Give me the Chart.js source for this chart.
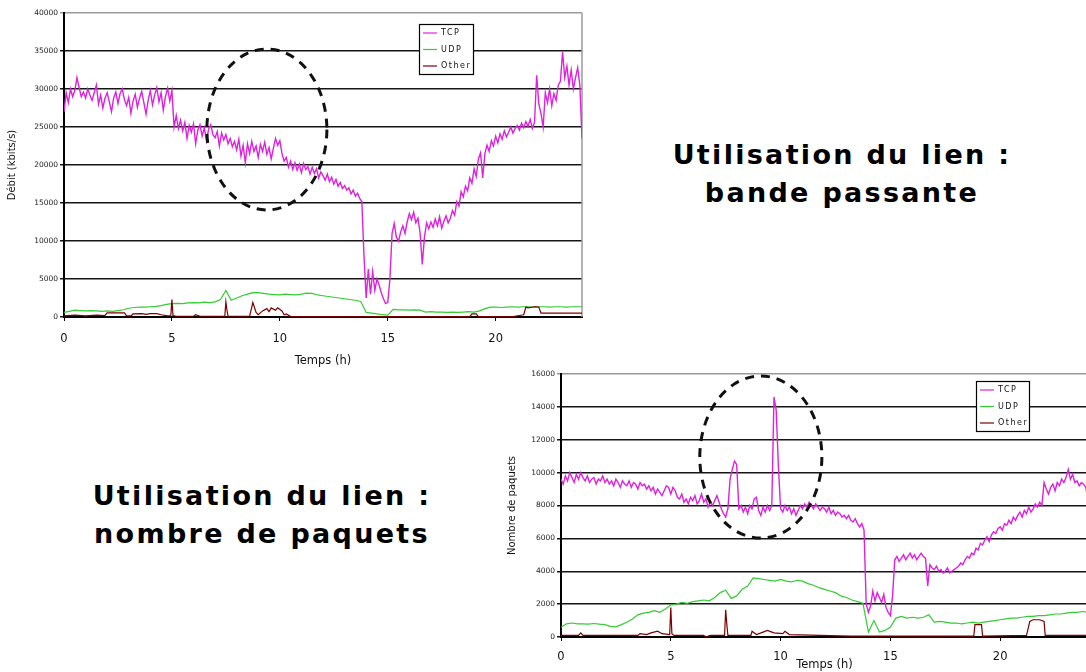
<!DOCTYPE html>
<html>
<head>
<meta charset="utf-8">
<script src="https://cdn.jsdelivr.net/npm/chart.js@4/dist/chart.umd.min.js"></script>
<style>
    html, body { margin: 0; padding: 0; background: #fff; width: 1086px; height: 672px; overflow: hidden; position: relative; }
    canvas { position: absolute; }
    #bwChart { left: 0; top: 0; }
    #pktChart { left: 500px; top: 360px; }
    .caption { position: absolute; width: 440px; font-family: "DejaVu Sans", sans-serif; font-weight: bold; font-size: 27px; letter-spacing: 2.3px; line-height: 38px; text-align: center; white-space: nowrap; color: #000; }
    #capBw { left: 622px; top: 136px; }
    #capPkt { left: 42px; top: 477px; }
</style>
</head>
<body>
<canvas id="bwChart" width="600" height="372"></canvas>
<canvas id="pktChart" width="600" height="312"></canvas>
<div class="caption" id="capBw">Utilisation du lien :<br>bande passante</div>
<div class="caption" id="capPkt">Utilisation du lien :<br>nombre de paquets</div>
<script>
const seriesNames = ['TCP', 'UDP', 'Other'];
const seriesColors = ['#dd22dd', '#33cc33', '#7a0000'];
const hourTicks = [0, 5, 10, 15, 20];
const bwTicks = [0, 5000, 10000, 15000, 20000, 25000, 30000, 35000, 40000];
const pktTicks = [0, 2000, 4000, 6000, 8000, 10000, 12000, 14000, 16000];

// TCP sampled every 0.1 h, UDP every 0.25 h, Other as [hour, value] pairs
const TCP_STEP = 0.1;
const UDP_STEP = 0.25;

// Débit (kbits/s)
const tcpBw = [
    27000, 29500, 28200, 30000, 29000, 29800, 31500, 30200, 29000, 29600,
    28800, 30000, 29200, 28500, 29500, 30500, 28000, 29200, 27500, 28800,
    29500, 28300, 27000, 28800, 29600, 28100, 29400, 30000, 28600, 27800,
    28900, 26800, 28400, 29300, 27600, 28800, 29700, 28200, 26700, 28500,
    29800, 27900, 29200, 30200, 28300, 29500, 27200, 29000, 30100, 28400,
    29800, 25000, 26500, 24800, 25900, 24500, 25600, 23500, 25200, 24300,
    25400, 22800, 24600, 25300, 23800, 24900, 23200, 24700, 25300, 24000,
    23600, 24400, 22500, 24200, 23300, 24000, 22800, 23500, 22400, 23100,
    22000, 23400, 21200, 22600, 20300, 22800, 21500, 23100, 21800, 22500,
    21000, 22700, 21800, 23000, 21400, 22300, 20800, 22200, 23500, 22600,
    23200, 21500, 20500, 21000, 19700, 20500, 19400, 20300, 19300, 20100,
    19000, 20200, 19400, 19800, 18800, 19700, 18900, 19500, 18300, 19100,
    18600, 18000, 18800, 17800, 18400, 17500, 18100, 17200, 17700, 16900,
    17300, 16700, 17000, 16200, 16700, 15900, 16300, 15600, 15200, 8000,
    2500, 6300, 3000, 6000, 3500, 5000, 4200, 3200, 2400, 1800,
    1900, 5000, 11000, 12300, 10500, 10000, 11200, 12000, 11000, 12500,
    13600, 12800, 13800, 12400, 13000, 11000, 6900, 10500, 12400, 11600,
    12500, 11800, 12900, 12000, 13200, 11700, 12600, 13300, 12400, 13000,
    14000, 13400, 15200, 14600, 16500, 15800, 17200, 16600, 18300, 17600,
    19500, 18500, 20800, 21600, 18300, 21500, 22600, 21800, 23200, 22500,
    23800, 22900, 24100, 23400, 24500, 23700, 24300, 25000, 24200, 24800,
    25200, 24600, 25500, 24900, 25700, 25100, 26000, 24800, 25600, 31800,
    28000, 26800, 25000, 29500, 28200, 30000, 27800, 29400, 28500, 30500,
    31000, 34900, 31500, 33000, 30500, 32500, 30000, 31500, 32800, 30500,
    23500
];
const udpBw = [
    600, 750, 900, 850,
    800, 850, 800, 750,
    800, 750, 850, 950,
    1150, 1250, 1300, 1300,
    1350, 1400, 1500, 1650,
    1750, 1800, 1750, 1850,
    1900, 1850, 1950, 1900,
    2000, 2300, 3500, 2200,
    2500, 2800, 3000, 3200,
    3200, 3100, 3000, 2950,
    2900, 3000, 2950, 2900,
    3000, 3150, 3100, 2900,
    2800, 2700, 2600, 2500,
    2400, 2300, 2200, 2050,
    600, 500, 400, 300,
    250, 1000, 950, 950,
    900, 950, 900, 650,
    700, 650, 650, 600,
    650, 600, 650, 700,
    650, 800, 1100, 1300,
    1300, 1250, 1300, 1350,
    1300, 1350, 1350, 1300,
    1350, 1350, 1300, 1350,
    1350, 1300, 1350, 1350,
    1350
];
const otherBw = [
    [0, 150], [0.5, 250], [1, 150], [1.5, 250], [1.9, 200], [2.0, 550], [2.8, 550], [2.9, 150],
    [3.1, 150], [3.2, 400], [3.6, 450], [3.8, 350], [4.0, 450], [4.3, 450], [4.5, 300], [4.8, 150],
    [4.95, 200], [5.0, 2300], [5.05, 200], [5.2, 100], [6.0, 100], [6.1, 300], [6.3, 100],
    [7.45, 100], [7.5, 2000], [7.55, 900], [7.6, 100], [8.6, 100], [8.75, 1900], [8.9, 600],
    [9.0, 300], [9.2, 800], [9.4, 1100], [9.5, 700], [9.6, 1200], [9.8, 900], [9.9, 1200],
    [10.1, 800], [10.2, 300], [10.3, 400], [10.5, 50], [18.8, 50], [18.9, 400], [19.1, 400],
    [19.2, 50], [20.8, 50], [21.1, 200], [21.3, 300], [21.4, 1300], [21.5, 1200], [21.8, 1350],
    [22.0, 1300], [22.1, 500], [24, 500]
];

// Nombre de paquets
const tcpPkt = [
    9600, 9300, 9800, 9500, 10000, 9700, 9400, 9900, 9600, 10000,
    9700, 9500, 9800, 9400, 9600, 9700, 9300, 9600, 9500, 9800,
    9400, 9600, 9300, 9500, 9200, 9600, 9400, 9100, 9500, 9300,
    9200, 9500, 9100, 9400, 9300, 9000, 9400, 9200, 9300, 9000,
    9200, 8900, 9100, 8700, 9000, 8800, 8600, 8900, 9200, 9100,
    8700, 9100, 8900, 8500, 8400, 8700, 8200, 8400, 8100, 8500,
    8300, 8600, 8100, 8300, 8700, 8200, 8400, 7900, 8200, 8000,
    8300, 8600, 8200, 7800, 7500, 7300, 7800, 9600, 10200, 10700,
    10500, 7800, 8000, 7600, 7900, 7500, 8000, 7800, 8400, 8500,
    7700, 7400, 7900, 7600, 8000, 7700, 8000, 14600, 13800, 10400,
    7800, 7600, 8000, 7700, 7900, 7500, 7800, 7400, 7700, 8000,
    7800, 8100, 7900, 8200, 8000, 7800, 8100, 7900, 7700, 7900,
    7800, 7600, 7900, 7500, 7700, 7400, 7600, 7500, 7300, 7400,
    7200, 7400, 7100, 7000, 7200, 6900, 6700, 6900, 6500, 2000,
    1500, 1900, 2800, 2200, 2700, 2400, 2100, 2600, 1800, 1500,
    1300, 2500, 4700, 4900, 4600, 4800, 5000, 4700, 4900, 5100,
    4800, 5000, 4700, 4900, 5100, 4900, 4800, 3100, 4400, 4200,
    4100, 4300, 4000, 4100, 3900, 4000, 4200, 3900, 4000, 4100,
    4200, 4300, 4500, 4400, 4700, 4900, 4800, 5100, 5000, 5400,
    5300, 5700, 5600, 5900, 6100, 5800, 6200, 6400, 6300, 6600,
    6700, 6500, 6900, 6800, 7100, 6900, 7300, 7100, 7400, 7600,
    7300, 7700, 7500, 7900, 7600, 7800, 8100, 7900, 8200, 8000,
    9400, 9000, 8700, 9100, 9300, 8900, 9400, 9200, 9600, 9400,
    9700, 10200, 9600, 9900, 9400, 9500, 9200, 9400, 9300, 9100,
    8300
];
const udpPkt = [
    600, 800, 850, 800,
    800, 780, 820, 780,
    750, 650, 620, 750,
    900, 1100, 1350, 1450,
    1500, 1600, 1500, 1700,
    1950, 2000, 2100, 2050,
    2150, 2200, 2250, 2200,
    2400, 2700, 2850, 2350,
    2500, 2900, 3100, 3600,
    3550, 3500, 3450, 3400,
    3500, 3400, 3350, 3450,
    3400, 3250, 3150, 3000,
    2900, 2800, 2700, 2500,
    2400, 2250, 2150, 2050,
    300, 1000, 300, 400,
    600, 1150, 1250, 1150,
    1200, 1150, 1200, 1350,
    900, 950, 900, 850,
    850, 800, 850, 900,
    850, 900, 950, 1000,
    1050, 1100, 1150, 1150,
    1200, 1250, 1250, 1300,
    1300, 1350, 1400, 1400,
    1450, 1500, 1500, 1550,
    1500
];
const otherPkt = [
    [0, 100], [0.8, 100], [0.9, 250], [1.0, 100], [3.5, 100], [3.6, 200], [3.9, 150], [4.1, 250],
    [4.4, 350], [4.6, 200], [4.95, 150], [5.0, 1800], [5.05, 200], [5.15, 100], [6.5, 100],
    [6.6, 0], [6.8, 100], [7.45, 100], [7.5, 1650], [7.55, 800], [7.6, 100], [8.65, 100],
    [8.7, 350], [8.9, 150], [9.2, 300], [9.4, 400], [9.7, 250], [10.1, 200], [10.2, 350],
    [10.4, 150], [13.2, 50], [15.1, 50], [18.8, 50], [18.85, 750], [19.15, 750], [19.2, 50],
    [21.2, 100], [21.35, 950], [21.5, 1050], [21.8, 1050], [22.0, 950], [22.05, 100], [24, 100]
];

const stepped = (vals, step) => vals.map((v, i) => ({ x: i * step, y: v }));
const paired = (pairs) => pairs.map(p => ({ x: p[0], y: p[1] }));

// grey right edge of the plot area
const frame = {
    id: 'frame',
    beforeDatasetsDraw(chart) {
        const a = chart.chartArea, ctx = chart.ctx;
        ctx.save();
        ctx.strokeStyle = '#9a9a9a';
        ctx.lineWidth = 1.5;
        ctx.beginPath();
        ctx.moveTo(a.right, a.top);
        ctx.lineTo(a.right, a.bottom);
        ctx.stroke();
        ctx.restore();
    }
};

// dashed hand-drawn ring, given in data units
const ring = {
    id: 'ring',
    afterDatasetsDraw(chart, args, opts) {
        const xs = chart.scales.x, ys = chart.scales.y, ctx = chart.ctx;
        const cx = xs.getPixelForValue(opts.x), cy = ys.getPixelForValue(opts.y);
        const rx = Math.abs(xs.getPixelForValue(opts.x + opts.rx) - cx);
        const ry = Math.abs(ys.getPixelForValue(opts.y + opts.ry) - cy);
        ctx.save();
        ctx.setLineDash([9, 7]);
        ctx.lineWidth = 3;
        ctx.strokeStyle = '#111';
        ctx.beginPath();
        ctx.ellipse(cx, cy, rx, ry, 0, 0, Math.PI * 2);
        ctx.stroke();
        ctx.restore();
    }
};

// boxed Excel-style legend
const boxLegend = {
    id: 'boxLegend',
    afterDraw(chart, args, opts) {
        const ctx = chart.ctx;
        ctx.save();
        ctx.fillStyle = '#fff';
        ctx.fillRect(opts.left, opts.top, opts.width, opts.height);
        ctx.strokeStyle = '#000';
        ctx.lineWidth = 1.2;
        ctx.strokeRect(opts.left + 0.5, opts.top + 0.5, opts.width, opts.height);
        ctx.font = '8px "DejaVu Sans"';
        ctx.letterSpacing = '1.5px';
        ctx.textBaseline = 'middle';
        chart.data.datasets.forEach((ds, i) => {
            const y = opts.top + 9 + i * 16.5;
            ctx.strokeStyle = ds.borderColor;
            ctx.lineWidth = 1.2;
            ctx.beginPath();
            ctx.moveTo(opts.left + 4, y);
            ctx.lineTo(opts.left + 18, y);
            ctx.stroke();
            ctx.fillStyle = '#111';
            ctx.fillText(ds.label, opts.left + 22, y);
        });
        ctx.restore();
    }
};

function buildChart(id, cfg) {
    const yMax = cfg.yTicks[cfg.yTicks.length - 1];
    const series = [stepped(cfg.tcp, TCP_STEP), stepped(cfg.udp, UDP_STEP), paired(cfg.other)];
    return new Chart(document.getElementById(id), {
        type: 'line',
        data: {
            datasets: series.map((pts, i) => ({
                label: seriesNames[i],
                data: pts,
                borderColor: seriesColors[i],
                borderWidth: i === 0 ? 1.4 : 1.2,
                pointRadius: 0,
                tension: 0,
                fill: false,
                order: [1, 2, 0][i]
            }))
        },
        options: {
            responsive: false,
            animation: false,
            events: [],
            layout: { padding: cfg.padding },
            plugins: {
                legend: { display: false },
                tooltip: { enabled: false },
                ring: cfg.ring,
                boxLegend: cfg.legend
            },
            scales: {
                x: {
                    type: 'linear', min: 0, max: 24,
                    afterBuildTicks: s => { s.ticks = hourTicks.map(v => ({ value: v })); },
                    afterFit: s => { s.height = cfg.xHeight; },
                    grid: { drawOnChartArea: false, drawTicks: true, tickLength: 4, color: '#000', lineWidth: 1 },
                    border: { color: '#000', width: 2 },
                    ticks: { color: '#111', font: { family: 'DejaVu Sans', size: 11.5 }, padding: cfg.xTickPad, maxRotation: 0, callback: v => String(v) },
                    title: { display: true, text: 'Temps (h)', color: '#111', font: { family: 'DejaVu Sans', size: 11.5 }, padding: { top: 0, bottom: cfg.xTitlePad } }
                },
                y: {
                    type: 'linear', min: 0, max: yMax,
                    afterBuildTicks: s => { s.ticks = cfg.yTicks.map(v => ({ value: v })); },
                    afterFit: s => { s.width = cfg.yWidth; },
                    grid: { color: c => (c.tick && c.tick.value === yMax) ? '#9a9a9a' : '#151515', lineWidth: 1.5, tickLength: 4 },
                    border: { color: '#000', width: 2 },
                    ticks: { color: '#222', font: { family: 'DejaVu Sans', size: 7.5 }, padding: 2, callback: v => String(v) },
                    title: { display: true, text: cfg.yTitle, color: '#111', font: { family: 'DejaVu Sans', size: 10 }, padding: { top: cfg.yTitlePad, bottom: 0 } }
                }
            }
        },
        plugins: [frame, ring, boxLegend]
    });
}

buildChart('bwChart', {
    tcp: tcpBw, udp: udpBw, other: otherBw,
    yTicks: bwTicks, yTitle: 'Débit (kbits/s)',
    padding: { left: 0, top: 13, right: 18, bottom: 0 },
    yWidth: 64, xHeight: 55, xTickPad: 11, xTitlePad: 4, yTitlePad: 6,
    ring: { x: 9.4, y: 24670, rx: 2.78, ry: 10590 },
    legend: { left: 419, top: 24, width: 54, height: 50 }
});

buildChart('pktChart', {
    tcp: tcpPkt, udp: udpPkt, other: otherPkt,
    yTicks: pktTicks, yTitle: 'Nombre de paquets',
    padding: { left: 0, top: 14, right: 12, bottom: 0 },
    yWidth: 61, xHeight: 35, xTickPad: 9, xTitlePad: 0, yTitlePad: 6,
    ring: { x: 9.1, y: 10950, rx: 2.78, ry: 4930 },
    legend: { left: 476, top: 21, width: 53, height: 50 }
});
</script>
</body>
</html>
